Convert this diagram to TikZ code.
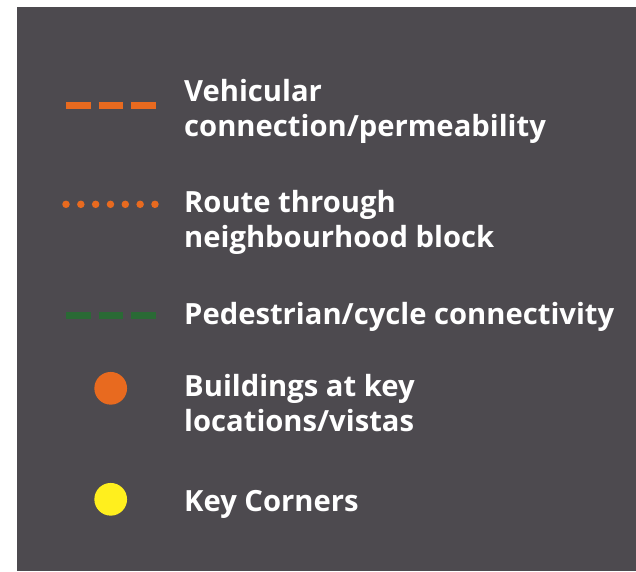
\documentclass[tikz,border=0pt]{standalone}
\usepackage{fontspec}
\setmainfont{Open Sans}
\definecolor{panel}{HTML}{4D4A4F}
\definecolor{legorange}{HTML}{E86A1F}
\definecolor{legyellow}{HTML}{FFEF1E}
\definecolor{leggreen}{HTML}{2A6A35}
\tikzset{
  lbl/.style={anchor=base west, inner sep=0pt, text=white, font=\bfseries\fontsize{29.2}{35}\selectfont},
  dashline/.style={line width=7.5pt, line cap=butt, dash pattern=on 24.67pt off 8pt},
  dotmark/.style={circle, fill=legorange, inner sep=0pt, minimum size=7.5pt},
  bigdot/.style={circle, inner sep=0pt, minimum size=32.7pt}
}
\begin{document}
\begin{tikzpicture}[x=1pt,y=-1pt]
\useasboundingbox (0,0) rectangle (636,571);
\fill[white] (0,0) rectangle (636,571);
\fill[panel] (17,7) rectangle (636,571);
% vehicular
\coordinate (v1) at (66,105.3);
\coordinate (v2) at (156,105.3);
\draw[dashline, legorange] (v1) -- (v2);
\node[lbl] (vt1) at (184,101.5) {Vehicular};
\node[lbl] (vt2) at (184,136.5) {connection/permeability};
% route
\foreach \i in {0,...,6} {
  \node[dotmark] (d\i) at (66+\i*14.83,204.3) {};
}
\node[lbl] (rt1) at (184,212.5) {Route through};
\node[lbl] (rt2) at (184,247.5) {neighbourhood block};
% pedestrian
\coordinate (p1) at (66,315);
\coordinate (p2) at (156,315);
\draw[dashline, leggreen, line width=7pt] (p1) -- (p2);
\node[lbl] (pt1) at (184,324) {Pedestrian/cycle connectivity};
% buildings
\node[bigdot, fill=legorange] (bo) at (110.7,388.3) {};
\node[lbl] (bt1) at (184,396) {Buildings at key};
\node[lbl] (bt2) at (184,431) {locations/vistas};
% key corners
\node[bigdot, fill=legyellow] (ky) at (110.7,499.3) {};
\node[lbl] (kt1) at (184,511) {Key Corners};
\end{tikzpicture}
\end{document}
